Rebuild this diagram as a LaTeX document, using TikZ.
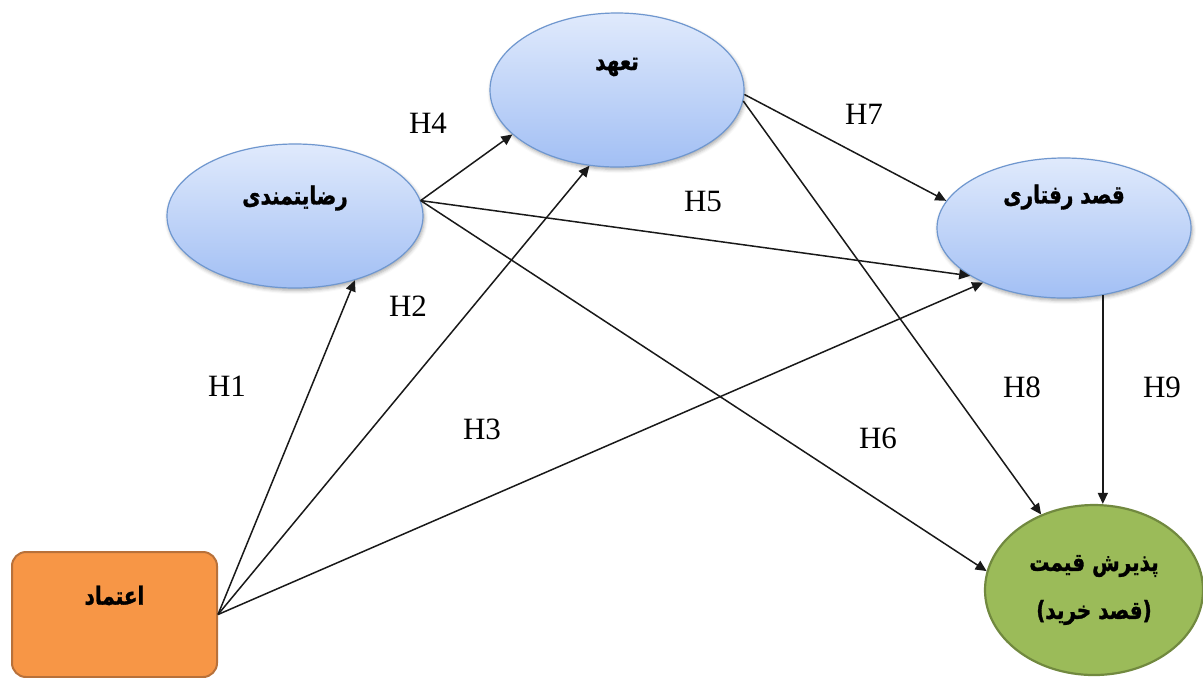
\documentclass[tikz,border=0pt]{standalone}
\usepackage{fontspec}
\setmainfont{Liberation Serif}
\newfontfamily\fa[Script=Arabic,UprightFont={* Bold},FakeBold=1.2,FakeStretch=0.8]{DejaVu Sans}
\TeXXeTstate=1
\usetikzlibrary{shapes.geometric,arrows.meta,shadows.blur}
\definecolor{bluetop}{HTML}{E0EAFC}
\definecolor{bluebot}{HTML}{A2BFF4}
\definecolor{blueline}{HTML}{6F97CF}
\definecolor{greenfill}{HTML}{9BBB59}
\definecolor{greenline}{HTML}{71893F}
\definecolor{orangefill}{HTML}{F79646}
\definecolor{orangeline}{HTML}{B8713A}
\tikzset{
  oval/.style={ellipse, draw=blueline, line width=0.6pt, top color=bluetop, bottom color=bluebot,
    blur shadow={shadow xshift=0.6pt, shadow yshift=-1.2pt, shadow opacity=35, shadow blur steps=4}, inner sep=0pt},
  fatext/.style={font=\fa\fontsize{12.5}{24}\selectfont},
  hyp/.style={font=\fontsize{15.5}{18}\selectfont},
  link/.style={line width=0.75pt, draw=black!90, -{Triangle[length=5.5pt,width=5pt]}},
}
\begin{document}
\begin{tikzpicture}[x=0.5pt,y=-0.5pt]
\useasboundingbox (0,0) rectangle (1203,677);
% nodes
\node[oval, minimum width=128pt, minimum height=72pt,
  label={[fatext,yshift=9pt,name=satt]center:\beginR رضایتمندی\endR}] (sat) at (295,216) {};
\node[oval, minimum width=127pt, minimum height=77pt,
  label={[fatext,yshift=11.5pt,name=committ]center:\beginR تعهد\endR}] (commit) at (617,90) {};
\node[oval, minimum width=127pt, minimum height=70pt,
  label={[fatext,yshift=15.5pt,name=intentt]center:\beginR قصد رفتاری\endR}] (intent) at (1064,228) {};
\node[ellipse, draw=greenline, line width=1.1pt, fill=greenfill, minimum width=109pt, minimum height=85pt,
  inner sep=0pt, align=center, fatext] (price) at (1094,590)
  {\beginR پذیرش قیمت\endR\\\beginR (قصد خرید)\endR};
\node[rectangle, rounded corners=7pt, draw=orangeline, line width=1pt, fill=orangefill,
  minimum width=102.5pt, minimum height=62.5pt, inner sep=0pt,
  label={[fatext,yshift=9.5pt,name=trustt]center:\beginR اعتماد\endR}] (trust) at (114.5,614.5) {};
% connectors
\draw[link] (trust.east) -- (sat.-47);
\draw[link] (trust.east) -- (commit.-110);
\draw[link] (trust.east) -- (intent.-146);
\draw[link] (sat.7) -- (commit.-157);
\draw[link] (sat.7) -- (intent.-153);
\draw[link] (sat.7) -- (price.170);
\draw[link] (commit.-2) -- (intent.167);
\draw[link] (commit.-5) -- (price.125);
\draw[link] (intent.-60) -- (intent.-60 |- price.north);
% hypothesis labels
\node[hyp] (h1) at (227,386) {H1};
\node[hyp] (h2) at (408,306) {H2};
\node[hyp] (h3) at (482,429) {H3};
\node[hyp] (h4) at (428,123) {H4};
\node[hyp] (h5) at (703,201) {H5};
\node[hyp] (h6) at (878,438) {H6};
\node[hyp] (h7) at (864,114) {H7};
\node[hyp] (h8) at (1022,387) {H8};
\node[hyp] (h9) at (1162,387) {H9};
\end{tikzpicture}
\end{document}
